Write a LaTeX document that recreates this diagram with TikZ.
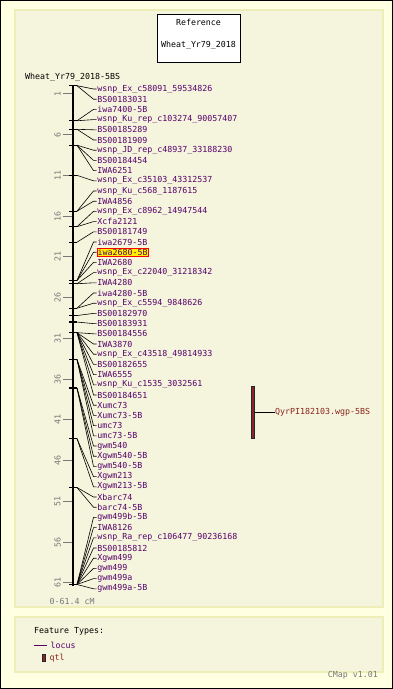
\documentclass[tikz,border=0pt]{standalone}
\usepackage{fontspec}
\setmonofont{DejaVu Sans Mono}
\usetikzlibrary{positioning}

\definecolor{outerbg}{RGB}{255,255,226}
\definecolor{panelbg}{RGB}{245,245,222}
\definecolor{panelrule}{RGB}{238,238,185}
\definecolor{locuscol}{RGB}{85,0,105}
\definecolor{qtlcol}{RGB}{140,35,45}
\definecolor{qtltext}{RGB}{140,35,30}
\definecolor{scalegray}{RGB}{120,120,120}

\begin{document}
\begin{tikzpicture}[x=1pt,y=-1pt,
    every node/.style={font=\ttfamily\fontsize{8.3}{10}\selectfont, inner sep=0pt},
    panel/.style={draw=panelrule, fill=panelbg, line width=1.2pt},
    locus/.style={text=locuscol, anchor=west, inner sep=0.7pt},
    hilite/.style={locus, fill=yellow, draw=red, line width=0.7pt},
    scalelab/.style={text=scalegray, rotate=90},
    marker/.style={line width=1.3pt},
    leader/.style={line width=0.6pt},
    qtlbar/.style={fill=qtlcol, draw=black!85, line width=0.6pt}]
\useasboundingbox (0,0) rectangle (393,689);
\draw[fill=outerbg, line width=1pt] (0.5,0.5) rectangle (392.5,688.5);
\draw[panel] (15,10) rectangle (383,607);
\draw[panel] (15,617) rectangle (383,672);

% title box
\draw[fill=white, line width=0.8pt] (157,14) rectangle (240,62);
\node (ref) at (198.5,22.5) {Reference};
\node (refmap) at (198.5,45) {Wheat\_Yr79\_2018};
\node[anchor=west] (mapname) at (25,77.5) {Wheat\_Yr79\_2018-5BS};

% axis and scale (y = 85.7 + 8.15 cM)
\draw[line width=2.4pt] (72.8,85.7) -- (72.8,586);
\foreach \t in {1,6,...,61} {
  \draw[scalegray, line width=0.8pt] (63,{85.7+8.15*\t}) -- (72,{85.7+8.15*\t});
  \node[scalelab] (s\t) at (57.5,{85.7+8.15*\t}) {\t};
}
\node[anchor=west, text=scalegray] (range) at (49.5,601) {0-61.4 cM};

% markers on the axis
\foreach \m/\c in {0/0, 1/4.3, 2/5.35, 3/7.3, 4/11.0, 5/15.4, 6/17.3, 7/19.2,
    8/23.9, 9/24.3, 10/27.3, 11/28.2, 12/29.0, 13/30.3, 14/33.6, 15/37.1,
    16/43.3, 17/49.3, 18/61.2} {
  \draw[marker] (69.3,{85.7+8.15*\c}) -- (76.7,{85.7+8.15*\c});
  \coordinate (m\m) at (77,{85.7+8.15*\c});
}

% locus labels
\foreach \lab/\m/\st [count=\i] in {
    wsnp\_Ex\_c58091\_59534826/0/locus, BS00183031/0/locus,
    iwa7400-5B/1/locus, wsnp\_Ku\_rep\_c103274\_90057407/1/locus,
    BS00185289/2/locus, BS00181909/2/locus,
    wsnp\_JD\_rep\_c48937\_33188230/3/locus, BS00184454/3/locus, IWA6251/3/locus,
    wsnp\_Ex\_c35103\_43312537/4/locus,
    wsnp\_Ku\_c568\_1187615/5/locus, IWA4856/5/locus,
    wsnp\_Ex\_c8962\_14947544/6/locus, Xcfa2121/6/locus,
    BS00181749/7/locus,
    iwa2679-5B/8/locus, iwa2680-5B/8/hilite, IWA2680/8/locus,
    wsnp\_Ex\_c22040\_31218342/9/locus, IWA4280/9/locus,
    iwa4280-5B/10/locus, wsnp\_Ex\_c5594\_9848626/10/locus,
    BS00182970/11/locus, BS00183931/12/locus,
    BS00184556/13/locus, IWA3870/13/locus, wsnp\_Ex\_c43518\_49814933/13/locus,
    BS00182655/13/locus, IWA6555/13/locus, wsnp\_Ku\_c1535\_3032561/13/locus,
    BS00184651/13/locus,
    Xumc73/14/locus, Xumc73-5B/14/locus, umc73/14/locus, umc73-5B/14/locus,
    gwm540/15/locus, Xgwm540-5B/15/locus, gwm540-5B/15/locus,
    Xgwm213/16/locus, Xgwm213-5B/16/locus,
    Xbarc74/17/locus, barc74-5B/17/locus,
    gwm499b-5B/18/locus, IWA8126/18/locus, wsnp\_Ra\_rep\_c106477\_90236168/18/locus,
    BS00185812/18/locus, Xgwm499/18/locus, gwm499/18/locus, gwm499a/18/locus,
    gwm499a-5B/18/locus} {
  \node[\st] (l\i) at (96.5,{89+(\i-1)*10.2}) {\lab};
  \draw[leader] (m\m) -- ([xshift=-3pt]l\i.west) -- (l\i.west);
}

% qtl
\draw[qtlbar] (251,386) rectangle (254.7,438);
\coordinate (q) at (254.7,412.3);
\node[anchor=west, text=qtltext] (qlab) at (275,412.3) {QyrPI182103.wgp-5BS};
\draw[leader] (q) -- (qlab.west);

% legend
\node[anchor=west] (ftypes) at (34,631) {Feature Types:};
\draw[locuscol, line width=0.8pt] (34,645) -- (46.5,645);
\node[anchor=west, text=locuscol] (leglocus) at (50.5,645) {locus};
\draw[qtlbar] (42.3,654) rectangle (45.7,661.5);
\node[anchor=west, text=qtltext] (legqtl) at (49.5,658) {qtl};
\node[anchor=east, text=scalegray] (version) at (378,675.5) {CMap v1.01};
\end{tikzpicture}
\end{document}
